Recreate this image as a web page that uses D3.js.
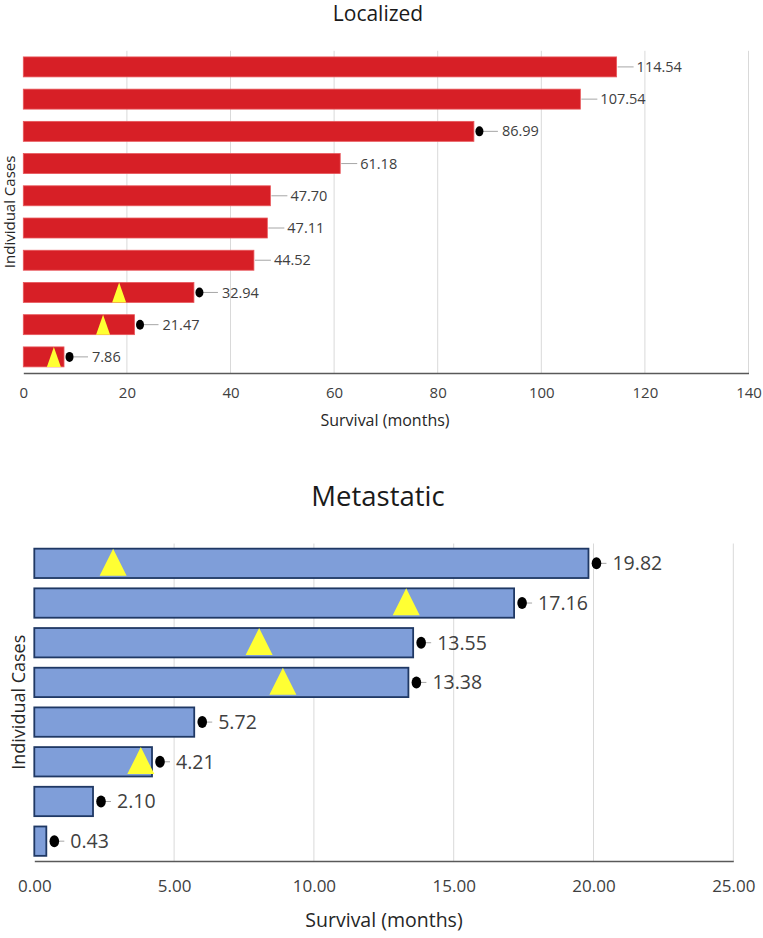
<!DOCTYPE html>
<html>
<head>
<meta charset="utf-8">
<script src="https://cdn.jsdelivr.net/npm/d3@7"></script>
<style>
  html, body { margin: 0; padding: 0; background: #fff; }
  svg { display: block; font-family: "Open Sans", "Noto Sans", sans-serif; }
</style>
</head>
<body>
<svg id="chart" width="763" height="938"></svg>
<script>
// ---- Localized ----
const locCases = ["1","2","3","4","5","6","7","8","9","10"];
const locValues = [114.54, 107.54, 86.99, 61.18, 47.70, 47.11, 44.52, 32.94, 21.47, 7.86];
const locEvent = [false, false, true, false, false, false, false, true, true, true];
const locTriangle = [null, null, null, null, null, null, null, 18.5, 15.4, 5.9];
const locTicks = [0, 20, 40, 60, 80, 100, 120, 140];

// ---- Metastatic ----
const metCases = ["1","2","3","4","5","6","7","8"];
const metValues = [19.82, 17.16, 13.55, 13.38, 5.72, 4.21, 2.10, 0.43];
const metEvent = [true, true, true, true, true, true, true, true];
const metTriangle = [2.82, 13.3, 8.04, 8.89, null, 3.81, null, null];
const metTicks = [0, 5, 10, 15, 20, 25];

const svg = d3.select("#chart");

function drawPanel(cfg) {
  const g = svg.append("g");
  const x = d3.scaleLinear().domain([0, cfg.ticks[cfg.ticks.length - 1]]).range([cfg.x0, cfg.x1]);
  const y = d3.scaleBand().domain(cfg.cases).range([cfg.y0, cfg.y1])
    .paddingInner(cfg.pad).paddingOuter(cfg.pad / 2);

  // title
  g.append("text").attr("x", cfg.titleX).attr("y", cfg.titleY)
    .attr("text-anchor", "middle").attr("font-size", cfg.titleSize)
    .attr("fill", "#1a1a1a").text(cfg.title);

  // gridlines
  g.append("g").selectAll("line").data(cfg.ticks.filter(t => t > 0)).join("line")
    .attr("x1", d => x(d)).attr("x2", d => x(d))
    .attr("y1", cfg.y0).attr("y2", cfg.y1)
    .attr("stroke", "#d9d9d9").attr("stroke-width", 1);

  // x axis
  const axis = d3.axisBottom(x).tickValues(cfg.ticks).tickSize(0).tickPadding(cfg.tickPad)
    .tickFormat(cfg.fmt);
  const ax = g.append("g").attr("transform", `translate(0,${cfg.y1})`).call(axis);
  ax.select(".domain").attr("stroke", "#595959").attr("stroke-width", 1.5);
  ax.selectAll("text").attr("font-size", cfg.tickSize).attr("fill", "#404040")
    .attr("font-family", "\"Open Sans\", sans-serif");

  // axis titles
  g.append("text").attr("x", cfg.xLabelX).attr("y", cfg.xLabelY)
    .attr("text-anchor", "middle").attr("font-size", cfg.xLabelSize).attr("fill", "#262626")
    .text("Survival (months)");
  g.append("text")
    .attr("transform", `translate(${cfg.yLabelX},${(cfg.y0 + cfg.y1) / 2}) rotate(-90)`)
    .attr("text-anchor", "middle").attr("font-size", cfg.yLabelSize).attr("fill", "#262626")
    .text("Individual Cases");

  const data = cfg.cases.map((c, i) => ({ c, v: cfg.values[i], ev: cfg.events[i], tri: cfg.tri[i] }));
  const bw = y.bandwidth();

  // bars
  g.append("g").selectAll("rect").data(data).join("rect")
    .attr("x", x(0)).attr("y", d => y(d.c))
    .attr("width", d => x(d.v) - x(0)).attr("height", bw)
    .attr("fill", cfg.fill).attr("stroke", cfg.stroke).attr("stroke-width", cfg.strokeW);

  // triangles
  const th = bw * cfg.triH, tw = cfg.triW;
  g.append("g").selectAll("path").data(data.filter(d => d.tri != null)).join("path")
    .attr("d", d => {
      const cx = x(d.tri), top = y(d.c) + cfg.triTop, bot = top + th;
      return `M${cx - tw / 2},${bot} L${cx},${top} L${cx + tw / 2},${bot} Z`;
    })
    .attr("fill", "#ffff33");

  // leader lines
  g.append("g").selectAll("line").data(data).join("line")
    .attr("x1", d => x(d.v) + (d.ev ? cfg.lineStartDot : cfg.lineStart))
    .attr("x2", d => x(d.v) + (d.ev ? cfg.lineEndDot : cfg.lineEnd))
    .attr("y1", d => y(d.c) + bw / 2).attr("y2", d => y(d.c) + bw / 2)
    .attr("stroke", "#a6a6a6").attr("stroke-width", 1);

  // event dots
  g.append("g").selectAll("ellipse").data(data.filter(d => d.ev)).join("ellipse")
    .attr("cx", d => x(d.v) + cfg.dotOff).attr("cy", d => y(d.c) + bw / 2)
    .attr("rx", cfg.dotRx).attr("ry", cfg.dotRy).attr("fill", "#000");

  // value labels
  g.append("g").selectAll("text").data(data).join("text")
    .attr("x", d => x(d.v) + (d.ev ? cfg.labelOffDot : cfg.labelOff))
    .attr("y", d => y(d.c) + bw / 2)
    .attr("dy", "0.35em").attr("font-size", cfg.labelSize).attr("fill", "#404040")
    .text(d => d.v.toFixed(2));
}

drawPanel({
  title: "Localized", titleX: 378, titleY: 21, titleSize: 21,
  cases: locCases, values: locValues, events: locEvent, tri: locTriangle, ticks: locTicks,
  x0: 23.3, x1: 748.5, y0: 50.8, y1: 373, pad: 0.38,
  fmt: d3.format("d"), tickPad: 14, tickSize: 15,
  xLabelX: 385, xLabelY: 426, xLabelSize: 16,
  yLabelX: 15, yLabelSize: 15,
  fill: "#d71f26", stroke: "#e8585c", strokeW: 0.8,
  triW: 14, triH: 1.0, triTop: 0,
  dotOff: 5.5, dotRx: 4, dotRy: 5,
  lineStart: 1, lineEnd: 17, lineStartDot: 8, lineEndDot: 24,
  labelOff: 20, labelOffDot: 28, labelSize: 14.5
});

drawPanel({
  title: "Metastatic", titleX: 378, titleY: 506, titleSize: 27.5,
  cases: metCases, values: metValues, events: metEvent, tri: metTriangle, ticks: metTicks,
  x0: 34.3, x1: 733.3, y0: 543.5, y1: 861, pad: 0.26,
  fmt: d3.format(".2f"), tickPad: 19, tickSize: 17,
  xLabelX: 384, xLabelY: 927, xLabelSize: 19.5,
  yLabelX: 25, yLabelSize: 18,
  fill: "#7f9ed9", stroke: "#1f3864", strokeW: 1.8,
  triW: 27, triH: 0.92, triTop: 0,
  dotOff: 8, dotRx: 4.8, dotRy: 6,
  lineStart: 2, lineEnd: 16, lineStartDot: 12, lineEndDot: 18,
  labelOff: 20, labelOffDot: 24, labelSize: 19.5
});
</script>
</body>
</html>
